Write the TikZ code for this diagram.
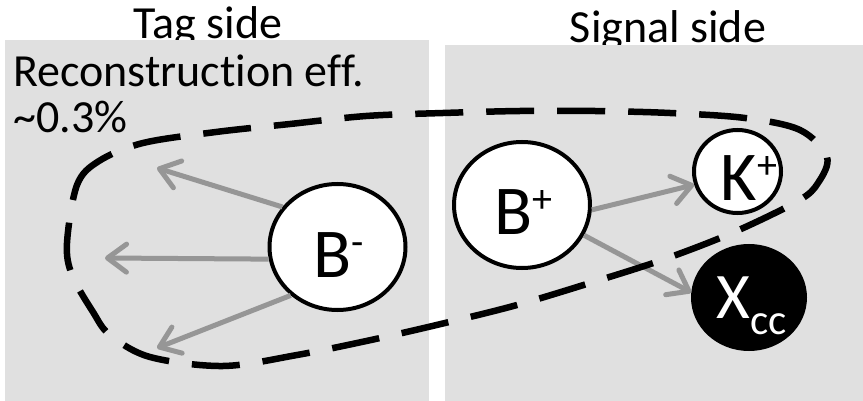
\documentclass[tikz,border=0pt]{standalone}
\usepackage{fontspec}
\setmainfont{Carlito}[Ligatures=NoCommon]
\usetikzlibrary{arrows.meta,shapes.geometric}
\definecolor{panelgray}{RGB}{224,224,224}
\definecolor{arrowgray}{RGB}{150,150,150}
\newcommand\supsym[1]{\raisebox{22pt}{\fontsize{40}{40}\selectfont #1}}
\newcommand\subsym[1]{\raisebox{-16pt}{\fontsize{43}{43}\selectfont #1}}
\begin{document}
\begin{tikzpicture}[x=1pt,y=-1pt,
  panelbox/.style={fill=panelgray,draw=none},
  titletext/.style={font=\fontsize{46}{46}\selectfont,anchor=base,inner sep=0pt},
  particle/.style={ellipse,draw=black,line width=4pt,fill=white,inner sep=0pt},
  ptext/.style={font=\fontsize{70}{70}\selectfont,text height=45pt,text depth=0pt,inner sep=0pt},
  decayarrow/.style={draw=arrowgray,line width=5pt,-{Straight Barb[length=19pt,width=28pt,round]}},
  tagcurve/.style={draw=black,line width=6.5pt,dash pattern=on 48pt off 23pt}
]
\useasboundingbox (0,0) rectangle (863,401);
% titles (drawn first, panels cover their descenders)
\node[titletext] (tagtitle) at (208,38.5) {Tag side};
\node[titletext] (sigtitle) at (668,43) {Signal side};
% panels
\fill[panelbox] (5,40.5) rectangle (429,401);
\fill[panelbox] (445,45) rectangle (863,401);
% efficiency text (base anchor = baseline of the last line)
\node[font=\fontsize{46}{46}\selectfont,anchor=base west,inner sep=0pt,align=left] (efftext) at (13,133)
  {Reconstruct\kern0pt ion eff.\\\textasciitilde0.3\%};
% particles
\node[particle,minimum width=136pt,minimum height=126pt,
  label={[ptext,yshift=-7.5pt,xshift=1pt]center:B\supsym{-}}] (Bm) at (337.5,247) {};
\node[particle,minimum width=136pt,minimum height=126pt,
  label={[ptext,yshift=-7.5pt,xshift=1.5pt]center:B\supsym{+}}] (Bp) at (522,205) {};
\node[particle,minimum width=87pt,minimum height=83pt,
  label={[ptext,yshift=-7pt,xshift=11.5pt]center:K\supsym{+}}] (Kp) at (737.5,171.5) {};
\node[particle,fill=black,minimum width=112pt,minimum height=103pt,
  label={[font=\fontsize{65}{65}\selectfont,text=white,text height=42pt,text depth=0pt,inner sep=0pt,xshift=3pt]center:X\subsym{cc}}] (Xcc) at (749,297.5) {};
% free ends of tag-side arrows
\coordinate (t1) at (157,168);
\coordinate (t2) at (105,258);
\coordinate (t3) at (157,348);
% arrows
\draw[decayarrow] (Bm.144.8) -- (t1);
\draw[decayarrow] (Bm.190.2) -- (t2);
\draw[decayarrow] (Bm.226.3) -- (t3);
\draw[decayarrow] (Bp.-4.2) -- (Kp.197.4);
\draw[decayarrow] (Bp.-26.2) -- (Xcc.175.6);
% dashed reconstruction curve
\draw[tagcurve] plot[smooth cycle,tension=0.55] coordinates {
  (67,243) (77,185) (99,161) (143,143) (216,132) (290,124) (366,116)
  (443,113) (520,111) (595,111) (670,113) (745,118) (800,130) (827,157)
  (818,183) (798,201) (732,233) (662,260) (590,283) (517,305) (445,323)
  (371,340) (297,355) (223,366) (150,357) (110,335) (93,312) (72,275)};
\end{tikzpicture}
\end{document}
